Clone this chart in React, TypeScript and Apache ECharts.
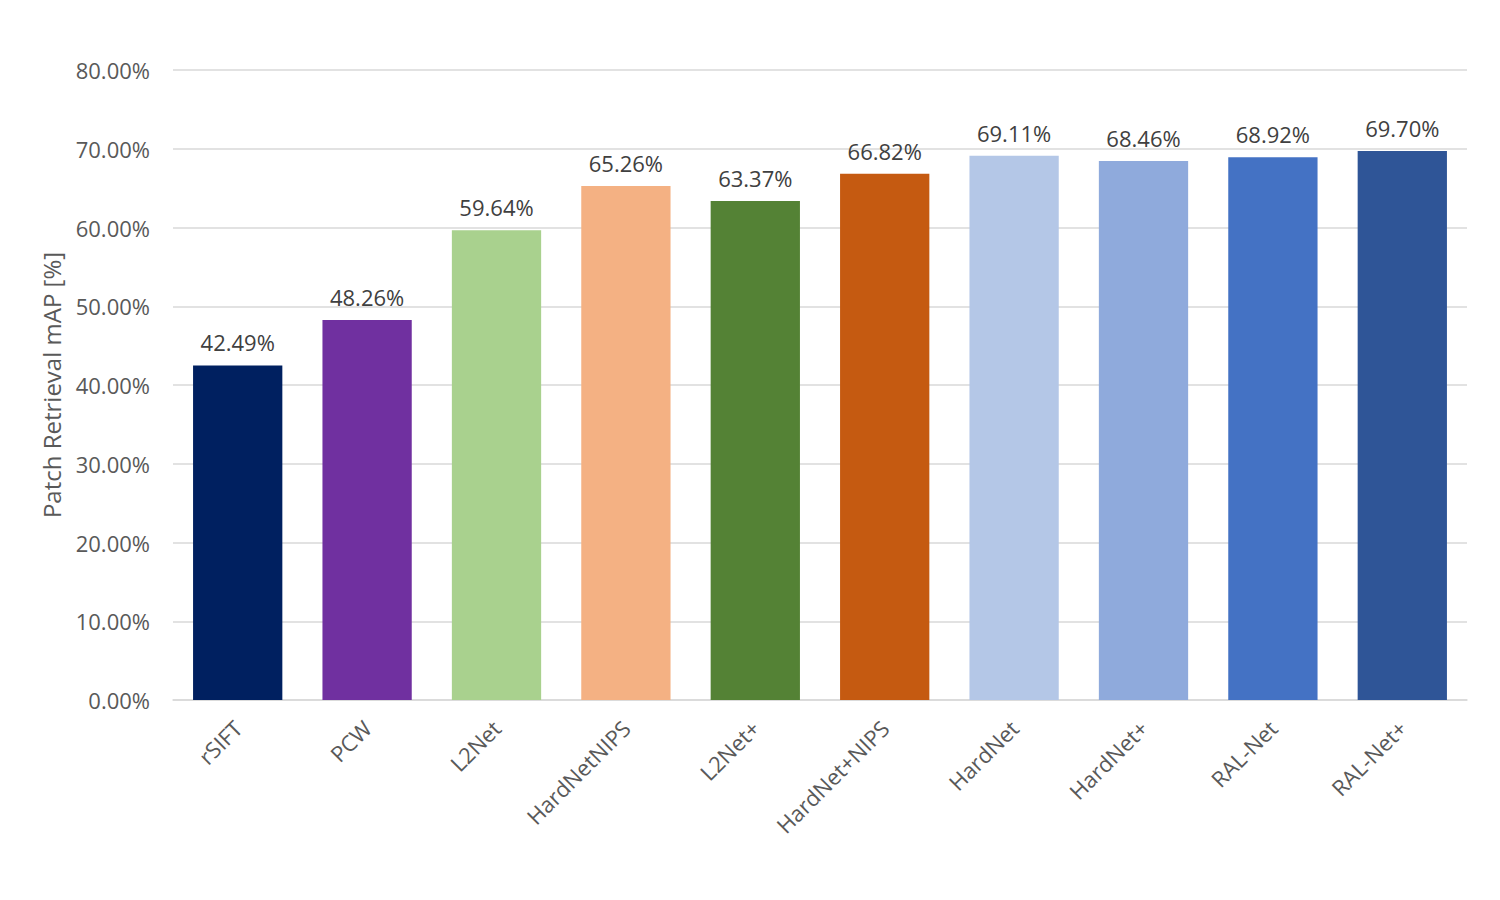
import React, { useEffect, useRef } from "react";
import * as echarts from "echarts";

const categories = [
  "rSIFT",
  "PCW",
  "L2Net",
  "HardNetNIPS",
  "L2Net+",
  "HardNet+NIPS",
  "HardNet",
  "HardNet+",
  "RAL-Net",
  "RAL-Net+",
];

const mapValues = [42.49, 48.26, 59.64, 65.26, 63.37, 66.82, 69.11, 68.46, 68.92, 69.7];

const barColors = [
  "#002060",
  "#7030A0",
  "#A9D18E",
  "#F4B183",
  "#548235",
  "#C55A11",
  "#B4C7E7",
  "#8FAADC",
  "#4472C4",
  "#2F5597",
];

const FONT = "'Open Sans', 'Noto Sans', sans-serif";

export default function App() {
  const ref = useRef<HTMLDivElement>(null);

  useEffect(() => {
    if (!ref.current) return;
    const chart = echarts.init(ref.current, undefined, { renderer: "svg" });
    chart.setOption({
      animation: false,
      backgroundColor: "#ffffff",
      grid: { left: 173, right: 33, top: 70, bottom: 200, containLabel: false },
      xAxis: {
        type: "category",
        data: categories,
        axisLine: { show: true, lineStyle: { color: "#d9d9d9", width: 1.5 } },
        axisTick: { show: false },
        axisLabel: {
          rotate: 45,
          margin: 24,
          color: "#595959",
          fontFamily: FONT,
          fontSize: 22,
          interval: 0,
        },
      },
      yAxis: {
        type: "value",
        min: 0,
        max: 80,
        interval: 10,
        name: "Patch Retrieval mAP [%]",
        nameLocation: "middle",
        nameGap: 110,
        nameTextStyle: { color: "#595959", fontFamily: FONT, fontSize: 24 },
        axisLine: { show: false },
        axisTick: { show: false },
        splitLine: { lineStyle: { color: "#d9d9d9", width: 1.5 } },
        axisLabel: {
          margin: 23,
          color: "#595959",
          fontFamily: FONT,
          fontSize: 22,
          formatter: (v: number) => `${v.toFixed(2)}%`,
        },
      },
      series: [
        {
          type: "bar",
          barWidth: "69%",
          data: mapValues.map((v, i) => ({ value: v, itemStyle: { color: barColors[i] } })),
          label: {
            show: true,
            position: "top",
            distance: 12,
            color: "#404040",
            fontFamily: FONT,
            fontSize: 22,
            formatter: (p: any) => `${Number(p.value).toFixed(2)}%`,
          },
        },
      ],
    });
    return () => chart.dispose();
  }, []);

  return (
    <div
      ref={ref}
      style={{ position: "fixed", left: 0, top: 0, width: 1500, height: 900, background: "#fff" }}
    />
  );
}
